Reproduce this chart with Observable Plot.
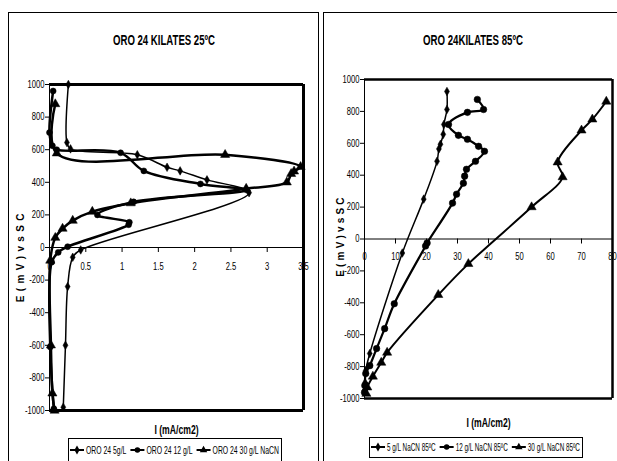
<!DOCTYPE html>
<html>
<head>
<meta charset="utf-8">
<script src="https://cdn.jsdelivr.net/npm/d3@7"></script>
<script src="https://cdn.jsdelivr.net/npm/@observablehq/plot@0.6"></script>
<style>
  html, body { margin: 0; padding: 0; background: #fff; }
  body { position: relative; width: 617px; height: 461px; overflow: hidden;
         font-family: "Liberation Sans", Arial, sans-serif; color: #000; }
  .panel { position: absolute; border: 1px solid #000; box-sizing: border-box; }
  .chart { position: absolute; }
  #overlay { position: absolute; left: 0; top: 0; z-index: 5; pointer-events: none; }
</style>
</head>
<body>
<div class="panel" style="left:8px;top:12px;width:311px;height:470px;"></div>
<div class="panel" style="left:323px;top:12px;width:310px;height:470px;"></div>
<div id="left" class="chart" style="left:9px;top:13px;"></div>
<div id="right" class="chart" style="left:324px;top:13px;"></div>

<script>
// ---- Gold 24 k, 25 ºC : current density (mA/cm2) and potential (mV vs SCE) ----
const i25_5g  = [0.19, 0.22, 0.25, 0.32, 0.43, 2.75, 2.17, 1.80, 1.62, 1.21, 0.29, 0.24, 0.26];
const e25_5g  = [-980, -600, -240, -60, -15, 336, 415, 470, 492, 569, 605, 644, 1000];

const i25_12g = [0.06, 0.01, 0.03, 0.12, 0.25, 1.09, 1.10, 0.66, 1.16, 2.72, 2.08, 1.30, 0.98, 0.10, 0.04, 0.00, 0.05];
const e25_12g = [-990, -610, -90, -30, 5, 140, 155, 200, 280, 352, 390, 470, 581, 600, 624, 705, 960];

const i25_30g = [0.07, 0.04, 0.02, 0.01, 0.08, 0.18, 0.32, 0.59, 1.12, 2.71, 3.27, 3.33, 3.37, 3.46, 2.42, 0.10, 0.08];
const e25_30g = [-1000, -895, -600, -80, 60, 116, 165, 220, 272, 361, 400, 452, 467, 495, 569, 578, 880];

// ---- Gold 24 k, 85 ºC ----
const i85_5g  = [0.0, 0.2, 0.4, 1.7, 12.2, 19.1, 23.4, 24.0, 24.5, 25.4, 25.6, 26.6, 26.6];
const e85_5g  = [-950, -900, -825, -718, -88, 250, 487, 565, 594, 656, 718, 812, 925];

const i85_12g = [0.0, 0.1, 0.4, 1.7, 3.9, 6.5, 9.6, 19.7, 20.2, 28.4, 29.7, 31.9, 32.3, 32.9, 35.8, 38.7, 36.8, 33.2, 30.3, 27.1, 33.2, 38.4, 36.4];
const e85_12g = [-962, -919, -844, -794, -687, -562, -406, -44, -25, 225, 281, 350, 394, 437, 487, 550, 581, 625, 650, 718, 794, 812, 875];

const i85_30g = [0.6, 0.9, 2.7, 5.4, 7.3, 23.8, 33.5, 53.9, 63.9, 62.3, 70.0, 73.5, 78.0];
const e85_30g = [-970, -930, -862, -775, -712, -350, -156, 200, 388, 481, 681, 750, 862];

// ---- axes, titles and labels ----
const yTicks = [-1000, -800, -600, -400, -200, 0, 200, 400, 600, 800, 1000];
const xTicks25 = [0, 0.5, 1, 1.5, 2, 2.5, 3, 3.5];
const xTicks85 = [0, 10, 20, 30, 40, 50, 60, 70, 80];
const title25 = "ORO 24 KILATES 25ºC";
const title85 = "ORO 24KILATES 85ºC";
const yLabel = "E ( m V ) v s S C";
const xLabel = "I (mA/cm2)";
const legend25 = ["ORO 24 5g/L", "ORO 24 12 g/L", "ORO 24 30 g/L NaCN"];
const legend85 = ["5 g/L NaCN 85ºC", "12 g/L NaCN 85ºC", "30 g/L NaCN 85ºC"];
const symbols = ["diamond", "circle", "triangle"];

const rows = (I, E) => I.map((v, k) => ({I: v, E: E[k]}));

// narrow the glyphs of a text element to a fraction of its natural width
function squeeze(t, factor) {
  const L = t.getComputedTextLength();
  if (L > 0) {
    t.setAttribute("textLength", (L * factor).toFixed(2));
    t.setAttribute("lengthAdjust", "spacingAndGlyphs");
  }
}

function drawPanel({el, series, xDomain, xTicks, width, height, margin, frameWidth,
                    xLabelDy, yLabelDx, yLabelDy, yLabelSpacing, tickPad}) {
  const plotH = height - margin.top - margin.bottom;
  const marks = [
    Plot.ruleY([0], {stroke: "black", strokeWidth: 1}),
    Plot.ruleX([xDomain[0]], {stroke: "black", strokeWidth: 1}),
    Plot.axisY({ticks: yTicks, tickSize: 4, tickPadding: 1, tickFormat: d => String(d), label: null}),
    // the x axis crosses at E = 0
    Plot.axisX({ticks: xTicks, anchor: "bottom", dy: -plotH / 2, tickSize: 5, tickPadding: tickPad,
                tickFormat: d => String(d), label: null}),
    Plot.text([yLabel], {text: d => d, frameAnchor: "left", textAnchor: "middle", lineAnchor: "middle",
                         dx: yLabelDx, dy: yLabelDy, rotate: -90, fontWeight: "bold", fontSize: 10}),
    Plot.text([xLabel], {text: d => d, frameAnchor: "bottom", textAnchor: "middle", lineAnchor: "middle",
                         dy: xLabelDy, fontWeight: "bold", fontSize: 12})
  ];
  for (const s of series) {
    const data = rows(s.I, s.E);
    marks.push(Plot.line(data, {x: "I", y: "E", stroke: "black", strokeWidth: s.width, curve: "catmull-rom"}));
    marks.push(Plot.dot(data, {x: "I", y: "E", symbol: s.symbol, r: s.r, fill: "black", stroke: "black", strokeWidth: 0.5}));
  }
  // plot-area border: top, bottom and right edges
  marks.push(Plot.ruleY([yTicks[yTicks.length - 1], yTicks[0]], {stroke: "black", strokeWidth: frameWidth}));
  marks.push(Plot.ruleX([xDomain[1]], {stroke: "black", strokeWidth: frameWidth}));
  const svg = Plot.plot({
    width, height,
    marginLeft: margin.left, marginRight: margin.right, marginTop: margin.top, marginBottom: margin.bottom,
    x: {domain: xDomain},
    y: {domain: [yTicks[0], yTicks[yTicks.length - 1]]},
    style: {fontFamily: '"Liberation Sans", Arial, sans-serif', fontSize: "10px",
            color: "black", background: "transparent", overflow: "visible"},
    marks
  });
  el.append(svg);
  svg.querySelectorAll("text").forEach(t => {
    if (t.textContent === yLabel) {
      t.style.letterSpacing = yLabelSpacing + "px";
    } else if (t.textContent === xLabel) {
      squeeze(t, 0.72);
    } else {
      squeeze(t, 0.76);
    }
  });
}

drawPanel({
  el: document.getElementById("left"),
  series: [
    {I: i25_5g, E: e25_5g, symbol: symbols[0], r: 2.6, width: 1.5},
    {I: i25_12g, E: e25_12g, symbol: symbols[1], r: 3, width: 2.5},
    {I: i25_30g, E: e25_30g, symbol: symbols[2], r: 3.4, width: 2.5}
  ],
  xDomain: [0, 3.5], xTicks: xTicks25, width: 300, height: 445,
  margin: {left: 40, right: 6, top: 71, bottom: 48}, frameWidth: 3, tickPad: 10,
  xLabelDy: 20, yLabelDx: -29, yLabelDy: 10, yLabelSpacing: 0.8
});

drawPanel({
  el: document.getElementById("right"),
  series: [
    {I: i85_5g, E: e85_5g, symbol: symbols[0], r: 2.6, width: 1.5},
    {I: i85_12g, E: e85_12g, symbol: symbols[1], r: 3.3, width: 2.2},
    {I: i85_30g, E: e85_30g, symbol: symbols[2], r: 3.4, width: 2}
  ],
  xDomain: [0, 80], xTicks: xTicks85, width: 293, height: 445,
  margin: {left: 40, right: 5, top: 66, bottom: 60}, frameWidth: 2.5, tickPad: 9,
  xLabelDy: 25, yLabelDx: -24, yLabelDy: -2, yLabelSpacing: 0.2
});

// ---- titles and legends, drawn over the two charts ----
const overlay = d3.select("body").append("svg").attr("id", "overlay")
  .attr("width", 617).attr("height", 461)
  .style("font-family", '"Liberation Sans", Arial, sans-serif');

// a text squeezed horizontally to a given width, anchored at x
function narrowText(parent, text, x, y, size, weight, width, anchor) {
  const g = parent.append("g");
  const t = g.append("text").attr("font-size", size).attr("font-weight", weight).text(text);
  const L = t.node().getComputedTextLength();
  const f = width / L;
  const x0 = anchor === "middle" ? x - width / 2 : x;
  g.attr("transform", `translate(${x0},${y}) scale(${f.toFixed(4)},1)`);
  return L;
}
narrowText(overlay, title25, 164, 45, 14, "bold", 102, "middle");
narrowText(overlay, title85, 473, 45, 14, "bold", 100, "middle");

function legend(names, x, y, w, h, midY) {
  const g = overlay.append("g");
  g.append("rect").attr("x", x + 0.5).attr("y", y + 0.5).attr("width", w).attr("height", h)
    .attr("fill", "white").attr("stroke", "black");
  const sampleW = 14, gapIn = 2, gapOut = 4, pad = 2, size = 11;
  // natural widths, to share the free room between the three names
  const probe = g.append("text").attr("font-size", size);
  const natural = names.map(n => { probe.text(n); return probe.node().getComputedTextLength(); });
  probe.remove();
  const avail = w - 2 * pad - names.length * (sampleW + gapIn) - (names.length - 1) * gapOut;
  const factor = avail / d3.sum(natural);
  let cx = x + pad;
  names.forEach((n, k) => {
    g.append("line").attr("x1", cx).attr("x2", cx + sampleW).attr("y1", midY).attr("y2", midY)
      .attr("stroke", "black").attr("stroke-width", 2);
    const sym = symbols[k] === "triangle" ? d3.symbolTriangle : symbols[k] === "circle" ? d3.symbolCircle : d3.symbolDiamond;
    g.append("path").attr("transform", `translate(${cx + sampleW / 2},${midY})`)
      .attr("d", d3.symbol(sym, 24)());
    const tw = natural[k] * factor;
    narrowText(g, n, cx + sampleW + gapIn, midY + 4, size, "normal", tw, "start");
    cx += sampleW + gapIn + tw + gapOut;
  });
}
legend(legend25, 68, 438, 213, 40, 450);
legend(legend85, 369, 437, 213, 20, 447);
</script>
</body>
</html>
